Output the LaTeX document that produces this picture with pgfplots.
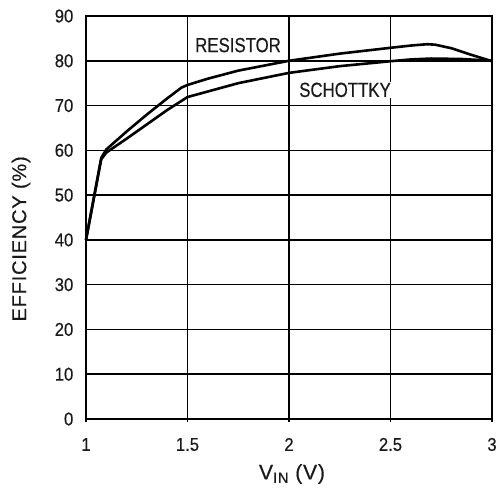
\documentclass[border=0pt]{standalone}
\usepackage{fontspec}
\setmainfont{Liberation Sans}
\newfontfamily\ticksfont{Liberation Sans}[FakeStretch=0.9, FakeBold=0.4]
\newfontfamily\narrowfont{Liberation Sans}[FakeStretch=0.82, FakeBold=0.4]
\newfontfamily\labelfont{Liberation Sans}[LetterSpace=4, FakeBold=0.4]
\newcommand\tickfnt{\ticksfont\fontsize{18.5}{20}\selectfont}
\usepackage{pgfplots}
\pgfplotsset{compat=1.18}
\begin{document}
\begin{tikzpicture}
\useasboundingbox (-86pt,-69pt) rectangle (413pt,419pt);
\begin{axis}[
  at={(0,0)}, anchor=south west,
  scale only axis,
  width=406pt, height=403pt,
  xmin=1, xmax=3, ymin=0, ymax=90,
  xtick={1,1.5,2,2.5,3},
  xticklabels={1,1.5,2,2.5,3},
  ytick={0,10,...,90},
  yticklabels={0,10,20,30,40,50,60,70,80,90},
  grid=major,
  grid style={black, line width=1.5pt},
  axis line style={black, line width=1.5pt},
  xtick style={black, line width=1.5pt},
  ytick style={draw=none},
  major tick length=2.5pt,
  tick align=outside,
  xtick pos=bottom, ytick pos=left,
  tick label style={font=\tickfnt, text=black!90},
  xticklabel style={anchor=center, inner sep=0pt, yshift=-23pt},
  yticklabel style={anchor=east, inner sep=0pt, xshift=-10pt},
  xlabel={V\raisebox{-3.5pt}{\fontsize{15}{15}\selectfont IN} (V)},
  ylabel={EFFICIENCY (\%)},
  label style={text=black!90},
  xlabel style={font=\labelfont\fontsize{21}{22}\selectfont, at={(axis description cs:0.5,0)}, anchor=center, yshift=-55pt, xshift=3pt},
  ylabel style={font=\labelfont\fontsize{20}{22}\selectfont, at={(axis description cs:0,0.447)}, anchor=center, yshift=65pt},
  clip=false,
]
\addplot[black, line width=2.6pt, line join=round] coordinates {
(1,40) (1.075,58.3) (1.1,60.2) (1.2,64.2) (1.3,68) (1.4,71.6) (1.47,74) (1.5,74.6)
(1.6,76) (1.75,77.8) (2.0,80) (2.25,81.6) (2.5,82.9) (2.6,83.4) (2.68,83.7) (2.72,83.6)
(2.8,82.8) (2.9,81.3) (3,79.9)};
\addplot[black, line width=2.6pt, line join=round] coordinates {
(1,40) (1.075,58) (1.1,59.5) (1.2,62.6) (1.3,65.8) (1.4,69) (1.5,71.9)
(1.75,75) (2.0,77.3) (2.25,78.8) (2.5,79.9) (2.6,80.3) (2.7,80.5) (2.85,80.4) (3,80)};
\node[fill=white, inner sep=1pt, font=\narrowfont\fontsize{20.5}{22}\selectfont, text=black!90] at (axis cs:1.749,83.5) {RESISTOR};
\node[fill=white, inner sep=1pt, font=\narrowfont\fontsize{20.5}{22}\selectfont, text=black!90] at (axis cs:2.276,73.5) {SCHOTTKY};
\end{axis}
\end{tikzpicture}
\end{document}
